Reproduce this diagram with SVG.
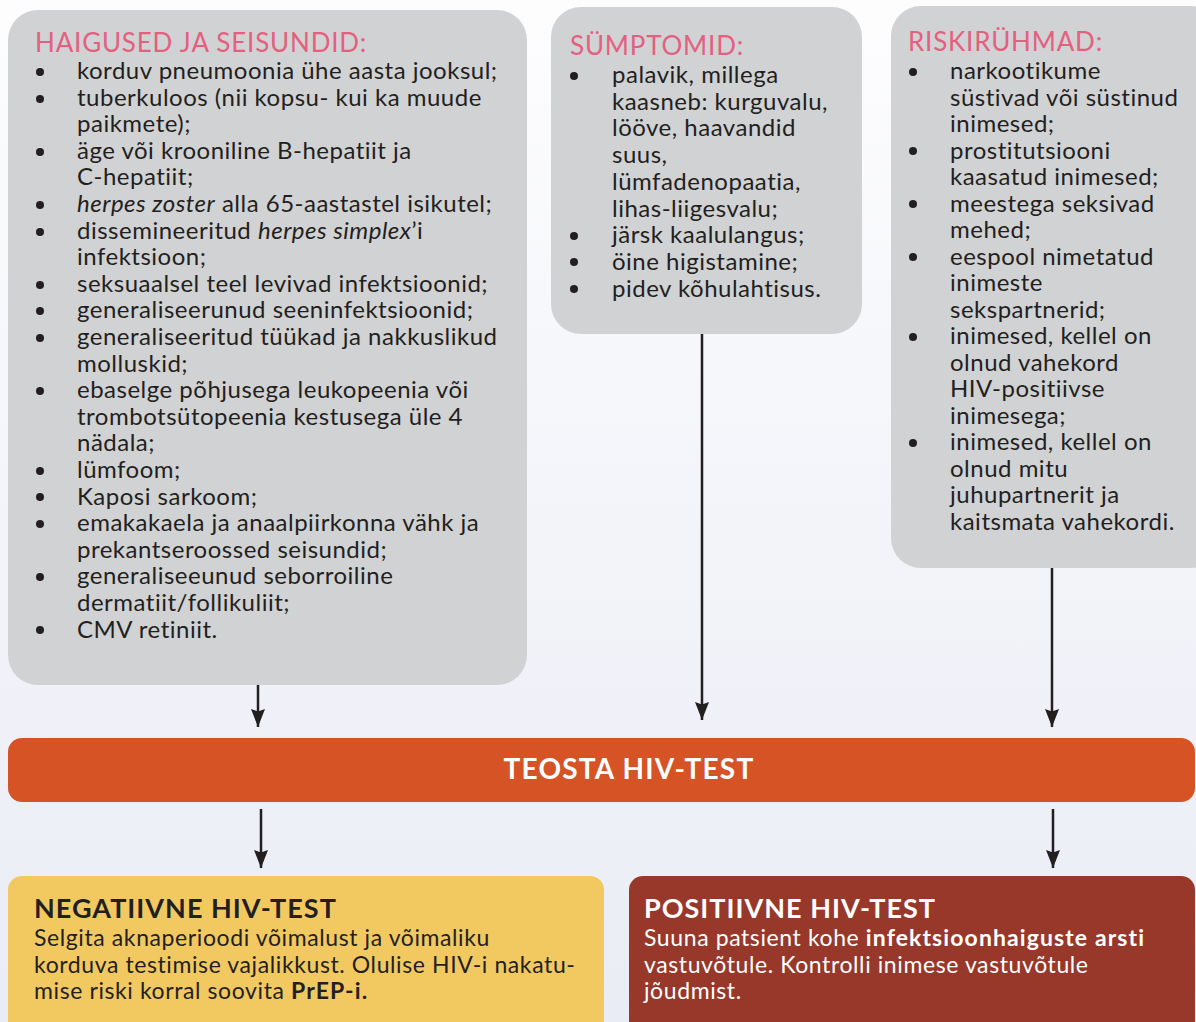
<svg xmlns="http://www.w3.org/2000/svg" width="1196" height="1022" viewBox="0 0 1196 1022">
  <defs>
    <linearGradient id="bg" x1="0" y1="0" x2="0" y2="1">
      <stop offset="0" stop-color="#fdfdfe"/>
      <stop offset="1" stop-color="#eaecf5"/>
    </linearGradient>
    <marker id="arrow" viewBox="0 0 18 14" refX="18" refY="7" markerWidth="18" markerHeight="14" markerUnits="userSpaceOnUse" orient="auto">
      <path d="M0,0 L2.5,7 L0,14 L18,7 Z" fill="#231f20"/>
    </marker>
    <style>
      .box { fill: #d1d2d4; }
      .hdr { font-family: Lato, "Liberation Sans", sans-serif; font-size: 26px; letter-spacing: 0.8px; fill: #e4607f; }
      .txt { font-family: Lato, "Liberation Sans", sans-serif; font-size: 24px; letter-spacing: 0.5px; fill: #231f20; }
      .bul { fill: #231f20; }
      .conn { stroke: #231f20; stroke-width: 2.5; fill: none; }
      .title { font-family: Lato, "Liberation Sans", sans-serif; font-size: 27px; font-weight: 700; letter-spacing: 1px; }
      .main { font-size: 28px; letter-spacing: 1.2px; }
      .body { font-family: Lato, "Liberation Sans", sans-serif; font-size: 23px; letter-spacing: 0.6px; }
      .b { font-weight: 700; letter-spacing: 1.1px; }
    </style>
  </defs>

  <rect width="1196" height="1022" fill="url(#bg)"/>

  <!-- Diseases and conditions -->
  <g id="haigused">
    <rect class="box" x="8" y="10" width="519" height="675" rx="30"/>
    <text class="hdr" x="35" y="52">HAIGUSED JA SEISUNDID:</text>
    <g class="bul">
      <circle cx="40" cy="72" r="4"/>
      <circle cx="40" cy="99" r="4"/>
      <circle cx="40" cy="152" r="4"/>
      <circle cx="40" cy="205" r="4"/>
      <circle cx="40" cy="232" r="4"/>
      <circle cx="40" cy="285" r="4"/>
      <circle cx="40" cy="311" r="4"/>
      <circle cx="40" cy="338" r="4"/>
      <circle cx="40" cy="391" r="4"/>
      <circle cx="40" cy="471" r="4"/>
      <circle cx="40" cy="497" r="4"/>
      <circle cx="40" cy="524" r="4"/>
      <circle cx="40" cy="577" r="4"/>
      <circle cx="40" cy="630" r="4"/>
    </g>
    <text class="txt">
      <tspan x="77" y="79">korduv pneumoonia ühe aasta jooksul;</tspan>
      <tspan x="77" y="105.6">tuberkuloos (nii kopsu- kui ka muude</tspan>
      <tspan x="77" y="132.2">paikmete);</tspan>
      <tspan x="77" y="158.8">äge või krooniline B-hepatiit ja</tspan>
      <tspan x="77" y="185.4">C-hepatiit;</tspan>
      <tspan x="77" y="212"><tspan font-style="italic">herpes zoster</tspan> alla 65-aastastel isikutel;</tspan>
      <tspan x="77" y="238.6">dissemineeritud <tspan font-style="italic">herpes simplex</tspan>’i</tspan>
      <tspan x="77" y="265.2">infektsioon;</tspan>
      <tspan x="77" y="291.8">seksuaalsel teel levivad infektsioonid;</tspan>
      <tspan x="77" y="318.4">generaliseerunud seeninfektsioonid;</tspan>
      <tspan x="77" y="345">generaliseeritud tüükad ja nakkuslikud</tspan>
      <tspan x="77" y="371.6">molluskid;</tspan>
      <tspan x="77" y="398.2">ebaselge põhjusega leukopeenia või</tspan>
      <tspan x="77" y="424.8">trombotsütopeenia kestusega üle 4</tspan>
      <tspan x="77" y="451.4">nädala;</tspan>
      <tspan x="77" y="478">lümfoom;</tspan>
      <tspan x="77" y="504.6">Kaposi sarkoom;</tspan>
      <tspan x="77" y="531.2">emakakaela ja anaalpiirkonna vähk ja</tspan>
      <tspan x="77" y="557.8">prekantseroossed seisundid;</tspan>
      <tspan x="77" y="584.4">generaliseeunud seborroiline</tspan>
      <tspan x="77" y="611">dermatiit/follikuliit;</tspan>
      <tspan x="77" y="637.6">CMV retiniit.</tspan>
    </text>
  </g>

  <!-- Symptoms -->
  <g id="symptomid">
    <rect class="box" x="551" y="7" width="311" height="327" rx="30"/>
    <text class="hdr" x="570" y="55">SÜMPTOMID:</text>
    <g class="bul">
      <circle cx="574" cy="76" r="4"/>
      <circle cx="574" cy="236" r="4"/>
      <circle cx="574" cy="262" r="4"/>
      <circle cx="574" cy="289" r="4"/>
    </g>
    <text class="txt">
      <tspan x="612" y="83">palavik, millega</tspan>
      <tspan x="612" y="109.7">kaasneb: kurguvalu,</tspan>
      <tspan x="612" y="136.4">lööve, haavandid</tspan>
      <tspan x="612" y="163.1">suus,</tspan>
      <tspan x="612" y="189.8">lümfadenopaatia,</tspan>
      <tspan x="612" y="216.5">lihas-liigesvalu;</tspan>
      <tspan x="612" y="243.2">järsk kaalulangus;</tspan>
      <tspan x="612" y="269.9">öine higistamine;</tspan>
      <tspan x="612" y="296.6">pidev kõhulahtisus.</tspan>
    </text>
  </g>

  <!-- Risk groups -->
  <g id="riskiryhmad">
    <rect class="box" x="891" y="6" width="330" height="562" rx="30"/>
    <text class="hdr" x="908" y="51">RISKIRÜHMAD:</text>
    <g class="bul">
      <circle cx="913" cy="72" r="4"/>
      <circle cx="913" cy="151" r="4"/>
      <circle cx="913" cy="204" r="4"/>
      <circle cx="913" cy="257" r="4"/>
      <circle cx="913" cy="337" r="4"/>
      <circle cx="913" cy="443" r="4"/>
    </g>
    <text class="txt">
      <tspan x="950" y="79">narkootikume</tspan>
      <tspan x="950" y="105.5">süstivad või süstinud</tspan>
      <tspan x="950" y="132">inimesed;</tspan>
      <tspan x="950" y="158.5">prostitutsiooni</tspan>
      <tspan x="950" y="185">kaasatud inimesed;</tspan>
      <tspan x="950" y="211.5">meestega seksivad</tspan>
      <tspan x="950" y="238">mehed;</tspan>
      <tspan x="950" y="264.5">eespool nimetatud</tspan>
      <tspan x="950" y="291">inimeste</tspan>
      <tspan x="950" y="317.5">sekspartnerid;</tspan>
      <tspan x="950" y="344">inimesed, kellel on</tspan>
      <tspan x="950" y="370.5">olnud vahekord</tspan>
      <tspan x="950" y="397">HIV-positiivse</tspan>
      <tspan x="950" y="423.5">inimesega;</tspan>
      <tspan x="950" y="450">inimesed, kellel on</tspan>
      <tspan x="950" y="476.5">olnud mitu</tspan>
      <tspan x="950" y="503">juhupartnerit ja</tspan>
      <tspan x="950" y="529.5">kaitsmata vahekordi.</tspan>
    </text>
  </g>

  <!-- Perform HIV test -->
  <g id="teosta">
    <rect x="8" y="738" width="1187" height="64" rx="14" fill="#d55325"/>
    <text class="title main" x="629" y="779" text-anchor="middle" fill="#ffffff">TEOSTA HIV-TEST</text>
  </g>

  <!-- Negative result -->
  <g id="negatiivne">
    <rect x="8" y="876" width="596" height="170" rx="14" fill="#f2c960"/>
    <text class="title" x="34" y="918" fill="#231f20">NEGATIIVNE HIV-TEST</text>
    <text class="body" fill="#231f20">
      <tspan x="34" y="946">Selgita aknaperioodi võimalust ja võimaliku</tspan>
      <tspan x="34" y="973">korduva testimise vajalikkust. Olulise HIV-i nakatu-</tspan>
      <tspan x="34" y="999">mise riski korral soovita <tspan class="b">PrEP-i.</tspan></tspan>
    </text>
  </g>

  <!-- Positive result -->
  <g id="positiivne">
    <rect x="629" y="876" width="566" height="170" rx="14" fill="#97382a"/>
    <text class="title" x="644" y="918" fill="#ffffff">POSITIIVNE HIV-TEST</text>
    <text class="body" fill="#ffffff">
      <tspan x="644" y="946">Suuna patsient kohe <tspan class="b">infektsioonhaiguste arsti</tspan></tspan>
      <tspan x="644" y="973">vastuvõtule. Kontrolli inimese vastuvõtule</tspan>
      <tspan x="644" y="999">jõudmist.</tspan>
    </text>
  </g>

  <!-- Connectors -->
  <g id="connectors" class="conn">
    <line x1="258" y1="685" x2="258" y2="727" marker-end="url(#arrow)"/>
    <line x1="702" y1="334" x2="702" y2="720" marker-end="url(#arrow)"/>
    <line x1="1052" y1="568" x2="1052" y2="727" marker-end="url(#arrow)"/>
    <line x1="261" y1="809" x2="261" y2="868" marker-end="url(#arrow)"/>
    <line x1="1053" y1="809" x2="1053" y2="868" marker-end="url(#arrow)"/>
  </g>
</svg>
